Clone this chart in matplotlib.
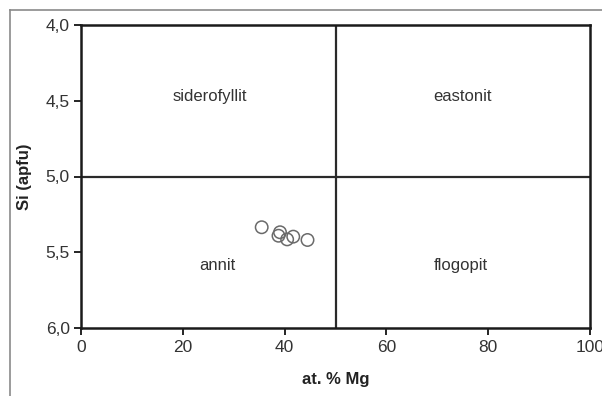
import matplotlib
matplotlib.use("Agg")
import matplotlib.pyplot as plt
from matplotlib.lines import Line2D
from matplotlib.ticker import FuncFormatter
from matplotlib import font_manager

mg_pct = [35.5, 39.1, 38.8, 40.5, 41.7, 44.5]
si_apfu = [5.335, 5.368, 5.391, 5.415, 5.397, 5.419]

region_names = ["siderofyllit", "eastonit", "annit", "flogopit"]
region_x = [25.3, 74.9, 26.7, 74.7]
region_y = [4.47, 4.47, 5.59, 5.59]

x_ticks = [0, 20, 40, 60, 80, 100]
y_ticks = [4.0, 4.5, 5.0, 5.5, 6.0]

plt.rcParams['font.family'] = ['Liberation Sans', 'DejaVu Sans']

names = {f.name for f in font_manager.fontManager.ttflist}
narrow = 'Liberation Sans Narrow' if 'Liberation Sans Narrow' in names else 'Liberation Sans'

fig = plt.figure(figsize=(6.02, 3.96), dpi=100)
W, H = 602, 396
ax = fig.add_axes([81 / W, 1 - 328 / H, (590 - 81) / W, (328 - 25) / H])

ax.set_xlim(0, 100)
ax.set_ylim(6.0, 4.0)

ax.axvline(50, color='#2a2a2a', lw=1.6, zorder=1)
ax.axhline(5.0, color='#2a2a2a', lw=1.6, zorder=1)

ax.scatter(mg_pct, si_apfu, s=80, facecolors='none', edgecolors='#6a6a6a',
           linewidths=1.1, zorder=3)

for name, x, y in zip(region_names, region_x, region_y):
    ax.text(x, y, name, ha='center', va='center', fontsize=12, color='#333333')

ax.set_xticks(x_ticks)
ax.set_yticks(y_ticks)
ax.xaxis.set_major_formatter(FuncFormatter(lambda v, p: f"{v:.0f}"))
ax.yaxis.set_major_formatter(FuncFormatter(lambda v, p: f"{v:.1f}".replace('.', ',')))
ax.tick_params(direction='out', length=5, width=1.2, labelsize=12,
               labelcolor='#333333', pad=3)
ax.tick_params(axis='x', pad=4)
for lab in ax.get_xticklabels():
    lab.set_fontfamily(narrow)
    lab.set_fontsize(14 if narrow != 'Liberation Sans' else 12.5)
for lab in ax.get_yticklabels():
    lab.set_fontsize(12.5)

for s in ax.spines.values():
    s.set_linewidth(1.8)
    s.set_color('#1a1a1a')

ax.set_xlabel("at. % Mg", fontsize=12, fontweight='bold', color='#222222', labelpad=12)
ax.set_ylabel("Si (apfu)", fontsize=12, fontweight='bold', color='#222222', labelpad=10)

# outer frame
fig.add_artist(Line2D([9.5 / W, 9.5 / W], [1 - 9.5 / H, 0], transform=fig.transFigure,
                      color='#8a8a8a', lw=1.2))
fig.add_artist(Line2D([9.5 / W, 1], [1 - 9.5 / H, 1 - 9.5 / H], transform=fig.transFigure,
                      color='#8a8a8a', lw=1.2))

fig.savefig("out.png", dpi=100)
